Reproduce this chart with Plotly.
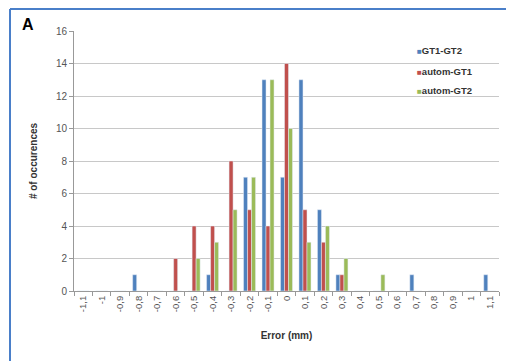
import plotly.graph_objects as go

categories = ["-1,1", "-1", "-0,9", "-0,8", "-0,7", "-0,6", "-0,5", "-0,4", "-0,3", "-0,2", "-0,1", "0",
              "0,1", "0,2", "0,3", "0,4", "0,5", "0,6", "0,7", "0,8", "0,9", "1", "1,1"]
gt1_gt2 =   [0, 0, 0, 1, 0, 0, 0, 1, 0, 7, 13, 7, 13, 5, 1, 0, 0, 0, 1, 0, 0, 0, 1]
autom_gt1 = [0, 0, 0, 0, 0, 2, 4, 4, 8, 5, 4, 14, 5, 3, 1, 0, 0, 0, 0, 0, 0, 0, 0]
autom_gt2 = [0, 0, 0, 0, 0, 0, 2, 3, 5, 7, 13, 10, 3, 4, 2, 0, 1, 0, 0, 0, 0, 0, 0]
series_names = ["GT1-GT2", "autom-GT1", "autom-GT2"]
series_colors = ["#4f81bd", "#c0504d", "#9bbb59"]
y_ticks = [0, 2, 4, 6, 8, 10, 12, 14, 16]

W, H = 506, 361
L, R, T, B = 74, 7, 31, 70
pw, ph = W - L - R, H - T - B

def px(x):
    return (x - L) / pw

def py(y):
    return (H - B - y) / ph

fig = go.Figure()
for vals, name, col in zip([gt1_gt2, autom_gt1, autom_gt2], series_names, series_colors):
    fig.add_bar(x=categories, y=vals, name=name, marker_color=col)

font = "Liberation Sans, Arial, sans-serif"
legend_ann = []
for i, (name, col) in enumerate(zip(series_names, series_colors)):
    legend_ann.append(dict(
        text=f"<span style='color:{col};font-size:8px'>■</span><b>{name}</b>",
        xref="paper", yref="paper", x=px(415), y=py(51 + 20 * i),
        xanchor="left", yanchor="middle", showarrow=False,
        font=dict(size=9.5, color="#333333", family=font)))

frame = dict(color="#4a7fc9", width=2)
fig.update_layout(
    width=W, height=H,
    margin=dict(l=L, r=R, t=T, b=B),
    paper_bgcolor="white", plot_bgcolor="white",
    barmode="group", bargap=0.35, bargroupgap=0,
    font=dict(family=font, size=9, color="#555555"),
    showlegend=False,
    xaxis=dict(type="category", tickangle=-90, ticks="outside", tickson="boundaries",
               ticklen=4, tickcolor="#999999", showline=True, linecolor="#999999",
               showgrid=False, tickfont=dict(size=9.5, color="#555555"), automargin=False,
               title=dict(text="<b>Error (mm)</b>", font=dict(size=10, color="#333333"), standoff=20)),
    yaxis=dict(range=[0, 16], tickvals=y_ticks, ticks="outside", ticklen=4,
               tickcolor="#999999", showline=True, linecolor="#999999",
               showgrid=True, gridcolor="#c8c8c8", zeroline=False, automargin=False,
               tickfont=dict(size=10, color="#555555"),
               title=dict(text="<b># of occurences</b>", font=dict(size=10, color="#333333"), standoff=16)),
    shapes=[
        dict(type="line", xref="paper", yref="paper", x0=px(10), x1=px(506), y0=py(9), y1=py(9), line=frame),
        dict(type="line", xref="paper", yref="paper", x0=px(10), x1=px(10), y0=py(9), y1=py(361), line=frame),
    ],
    annotations=[dict(text="<b>A</b>", xref="paper", yref="paper", x=px(20), y=py(14),
                      xanchor="left", yanchor="top", showarrow=False,
                      font=dict(size=16, color="black", family=font))] + legend_ann,
)
fig.write_html("out.html", config={"displayModeBar": False},
               post_script="document.body.style.margin='0';document.body.style.overflow='hidden';")
